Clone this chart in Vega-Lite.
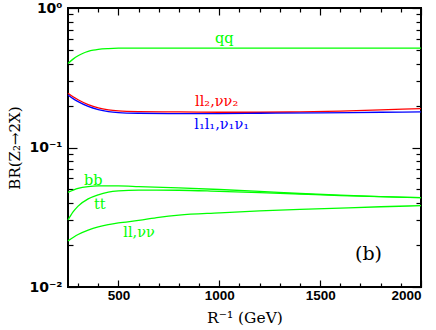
{
  "$schema": "https://vega.github.io/schema/vega-lite/v6.json",
  "width": 353,
  "height": 279,
  "autosize": {"type": "none"},
  "padding": {"left": 68, "top": 8, "right": 15, "bottom": 43},
  "background": "white",
  "config": {
    "view": {"stroke": "black", "strokeWidth": 2},
    "axis": {"domain": false, "grid": false, "tickColor": "black", "labelColor": "black", "titleColor": "black", "tickWidth": 1.2}
  },
  "datasets": {
    "curves": [
      {"series": "qq", "x": 250, "y": 0.40},
      {"series": "qq", "x": 275, "y": 0.43},
      {"series": "qq", "x": 300, "y": 0.455},
      {"series": "qq", "x": 325, "y": 0.474},
      {"series": "qq", "x": 350, "y": 0.488},
      {"series": "qq", "x": 375, "y": 0.498},
      {"series": "qq", "x": 400, "y": 0.505},
      {"series": "qq", "x": 450, "y": 0.512},
      {"series": "qq", "x": 500, "y": 0.515},
      {"series": "qq", "x": 700, "y": 0.516},
      {"series": "qq", "x": 1000, "y": 0.516},
      {"series": "qq", "x": 1500, "y": 0.516},
      {"series": "qq", "x": 2000, "y": 0.516},
      {"series": "ll2", "x": 250, "y": 0.245},
      {"series": "ll2", "x": 275, "y": 0.231},
      {"series": "ll2", "x": 300, "y": 0.22},
      {"series": "ll2", "x": 350, "y": 0.203},
      {"series": "ll2", "x": 400, "y": 0.192},
      {"series": "ll2", "x": 450, "y": 0.186},
      {"series": "ll2", "x": 500, "y": 0.183},
      {"series": "ll2", "x": 600, "y": 0.181},
      {"series": "ll2", "x": 800, "y": 0.180},
      {"series": "ll2", "x": 1000, "y": 0.179},
      {"series": "ll2", "x": 1200, "y": 0.179},
      {"series": "ll2", "x": 1400, "y": 0.180},
      {"series": "ll2", "x": 1600, "y": 0.182},
      {"series": "ll2", "x": 1800, "y": 0.186},
      {"series": "ll2", "x": 2000, "y": 0.19},
      {"series": "l1l1", "x": 250, "y": 0.238},
      {"series": "l1l1", "x": 275, "y": 0.224},
      {"series": "l1l1", "x": 300, "y": 0.213},
      {"series": "l1l1", "x": 350, "y": 0.197},
      {"series": "l1l1", "x": 400, "y": 0.187},
      {"series": "l1l1", "x": 450, "y": 0.181},
      {"series": "l1l1", "x": 500, "y": 0.178},
      {"series": "l1l1", "x": 600, "y": 0.176},
      {"series": "l1l1", "x": 800, "y": 0.175},
      {"series": "l1l1", "x": 1000, "y": 0.175},
      {"series": "l1l1", "x": 1200, "y": 0.176},
      {"series": "l1l1", "x": 1500, "y": 0.177},
      {"series": "l1l1", "x": 1800, "y": 0.179},
      {"series": "l1l1", "x": 2000, "y": 0.18},
      {"series": "bb", "x": 250, "y": 0.0477},
      {"series": "bb", "x": 300, "y": 0.051},
      {"series": "bb", "x": 350, "y": 0.0525},
      {"series": "bb", "x": 400, "y": 0.053},
      {"series": "bb", "x": 500, "y": 0.053},
      {"series": "bb", "x": 600, "y": 0.0525},
      {"series": "bb", "x": 800, "y": 0.0513},
      {"series": "bb", "x": 1000, "y": 0.050},
      {"series": "bb", "x": 1200, "y": 0.0485},
      {"series": "bb", "x": 1400, "y": 0.0468},
      {"series": "bb", "x": 1600, "y": 0.0455},
      {"series": "bb", "x": 1800, "y": 0.0445},
      {"series": "bb", "x": 2000, "y": 0.0437},
      {"series": "tt", "x": 250, "y": 0.0302},
      {"series": "tt", "x": 275, "y": 0.0345},
      {"series": "tt", "x": 300, "y": 0.038},
      {"series": "tt", "x": 350, "y": 0.0428},
      {"series": "tt", "x": 400, "y": 0.0458},
      {"series": "tt", "x": 450, "y": 0.0478},
      {"series": "tt", "x": 500, "y": 0.0488},
      {"series": "tt", "x": 600, "y": 0.0495},
      {"series": "tt", "x": 800, "y": 0.0494},
      {"series": "tt", "x": 1000, "y": 0.0485},
      {"series": "tt", "x": 1200, "y": 0.0475},
      {"series": "tt", "x": 1400, "y": 0.0464},
      {"series": "tt", "x": 1600, "y": 0.0452},
      {"series": "tt", "x": 1800, "y": 0.0444},
      {"series": "tt", "x": 2000, "y": 0.0437},
      {"series": "ll", "x": 250, "y": 0.0214},
      {"series": "ll", "x": 300, "y": 0.0238},
      {"series": "ll", "x": 350, "y": 0.0256},
      {"series": "ll", "x": 400, "y": 0.027},
      {"series": "ll", "x": 450, "y": 0.028},
      {"series": "ll", "x": 500, "y": 0.0288},
      {"series": "ll", "x": 600, "y": 0.0300},
      {"series": "ll", "x": 700, "y": 0.0316},
      {"series": "ll", "x": 800, "y": 0.0328},
      {"series": "ll", "x": 1000, "y": 0.0340},
      {"series": "ll", "x": 1200, "y": 0.0351},
      {"series": "ll", "x": 1400, "y": 0.0360},
      {"series": "ll", "x": 1600, "y": 0.0368},
      {"series": "ll", "x": 1800, "y": 0.0376},
      {"series": "ll", "x": 2000, "y": 0.0383}
    ],
    "labels": [
      {"series": "qq", "x": 979, "y": 0.561, "text": "qq"},
      {"series": "ll2", "x": 880, "y": 0.198, "text": "ll₂,νν₂"},
      {"series": "l1l1", "x": 876, "y": 0.135, "text": "l₁l₁,ν₁ν₁"},
      {"series": "bb", "x": 329, "y": 0.0539, "text": "bb"},
      {"series": "tt", "x": 379, "y": 0.0362, "text": "tt"},
      {"series": "ll", "x": 524, "y": 0.0229, "text": "ll,νν"}
    ],
    "notes": [
      {"x": 1673, "y": 0.0156, "text": "(b)"}
    ]
  },
  "layer": [
    {
      "data": {"name": "curves"},
      "mark": {"type": "line", "strokeWidth": 1.3, "interpolate": "monotone"},
      "encoding": {
        "x": {"field": "x", "type": "quantitative",
              "scale": {"domain": [250, 2000], "nice": false, "zero": false},
              "axis": {"orient": "bottom", "values": [500, 1000, 1500, 2000], "format": "d", "tickSize": -7, "labelPadding": 8,
                       "labelFont": "Liberation Sans", "labelFontWeight": "bold", "labelFontSize": 13.5,
                       "title": "R⁻¹ (GeV)", "titleFont": "DejaVu Serif", "titleFontWeight": "normal", "titleFontSize": 15.5, "titlePadding": 9}},
        "y": {"field": "y", "type": "quantitative",
              "scale": {"type": "log", "domain": [0.01, 1], "nice": false},
              "axis": {"orient": "left", "values": [0.01, 0.1, 1], "tickSize": -9, "labelPadding": 15,
                       "labelExpr": "datum.value >= 0.5 ? '10⁰' : datum.value >= 0.05 ? '10⁻¹' : '10⁻²'",
                       "labelFont": "DejaVu Sans", "labelFontWeight": "bold", "labelFontSize": 14,
                       "title": "BR(Z₂→2X)", "titleFont": "DejaVu Serif", "titleFontWeight": "normal", "titleFontSize": 15, "titlePadding": 6}},
        "color": {"field": "series", "type": "nominal",
                  "scale": {"domain": ["qq", "ll2", "l1l1", "bb", "tt", "ll"], "range": ["#00ff00", "#ff0000", "#0000ff", "#00ff00", "#00ff00", "#00ff00"]},
                  "legend": null}
      }
    },
    {
      "data": {"name": "curves"},
      "mark": {"type": "line", "opacity": 0},
      "encoding": {
        "x": {"field": "x", "type": "quantitative",
              "axis": {"orient": "bottom", "values": [300, 400, 600, 700, 800, 900, 1100, 1200, 1300, 1400, 1600, 1700, 1800, 1900], "tickSize": -4, "labels": false, "title": null}},
        "y": {"field": "y", "type": "quantitative",
              "axis": {"orient": "left", "values": [0.02, 0.03, 0.04, 0.05, 0.06, 0.07, 0.08, 0.09, 0.2, 0.3, 0.4, 0.5, 0.6, 0.7, 0.8, 0.9], "tickSize": -5, "labels": false, "title": null}},
        "detail": {"field": "series"}
      }
    },
    {
      "data": {"name": "curves"},
      "mark": {"type": "line", "opacity": 0},
      "encoding": {
        "x": {"field": "x", "type": "quantitative",
              "axis": {"orient": "top", "values": [500, 1000, 1500, 2000], "tickSize": -7, "labels": false, "title": null}},
        "y": {"field": "y", "type": "quantitative",
              "axis": {"orient": "right", "values": [0.01, 0.1, 1], "tickSize": -9, "labels": false, "title": null}},
        "detail": {"field": "series"}
      }
    },
    {
      "data": {"name": "curves"},
      "mark": {"type": "line", "opacity": 0},
      "encoding": {
        "x": {"field": "x", "type": "quantitative",
              "axis": {"orient": "top", "values": [300, 400, 600, 700, 800, 900, 1100, 1200, 1300, 1400, 1600, 1700, 1800, 1900], "tickSize": -4, "labels": false, "title": null}},
        "y": {"field": "y", "type": "quantitative",
              "axis": {"orient": "right", "values": [0.02, 0.03, 0.04, 0.05, 0.06, 0.07, 0.08, 0.09, 0.2, 0.3, 0.4, 0.5, 0.6, 0.7, 0.8, 0.9], "tickSize": -5, "labels": false, "title": null}},
        "detail": {"field": "series"}
      }
    },
    {
      "data": {"name": "labels"},
      "mark": {"type": "text", "align": "left", "baseline": "alphabetic", "font": "DejaVu Serif", "fontSize": 14.5},
      "encoding": {
        "x": {"field": "x", "type": "quantitative", "axis": null},
        "y": {"field": "y", "type": "quantitative", "axis": null},
        "text": {"field": "text"},
        "color": {"field": "series", "type": "nominal", "legend": null}
      }
    },
    {
      "data": {"name": "notes"},
      "mark": {"type": "text", "align": "left", "baseline": "alphabetic", "font": "DejaVu Serif", "fontSize": 19, "color": "black"},
      "encoding": {
        "x": {"field": "x", "type": "quantitative", "axis": null},
        "y": {"field": "y", "type": "quantitative", "axis": null},
        "text": {"field": "text"}
      }
    }
  ],
  "resolve": {"axis": {"x": "independent", "y": "independent"}}
}
